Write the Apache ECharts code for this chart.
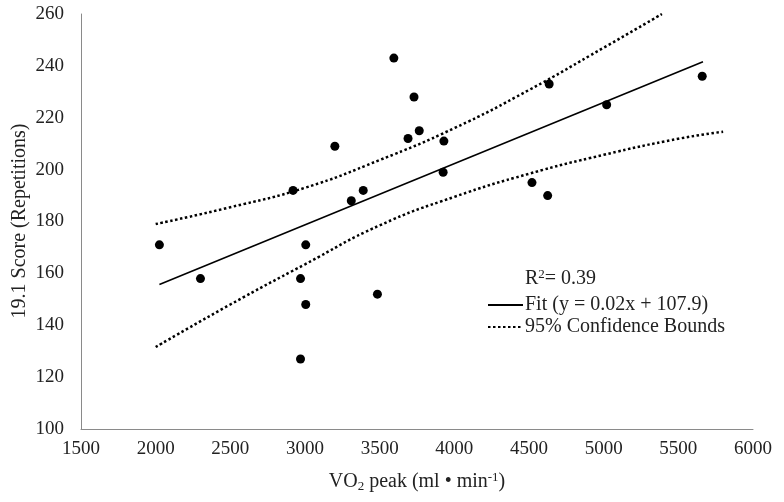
<!DOCTYPE html>
<html>
<head>
<meta charset="utf-8">
<script src="https://cdn.jsdelivr.net/npm/echarts@6/dist/echarts.min.js"></script>
<style>html,body{margin:0;padding:0;background:#fff}#c{width:784px;height:502px}</style>
</head>
<body>
<div id="c"></div>
<script>
const vo2 = [2025, 2300, 2920, 3005, 2970, 3005, 2970, 3200, 3310, 3390, 3485, 3595, 3730, 3690, 3765, 3930, 3925, 4520, 4625, 4635, 5020, 5660];
const score = [171, 158, 192, 171, 158, 148, 127, 209, 188, 192, 152, 243, 228, 212, 215, 211, 199, 195, 190, 233, 225, 236];
const fitX = [2025, 5665];
const fitY = [155.7, 241.6];
const upperX = [2000, 2500, 3000, 3500, 4000, 4500, 5000, 5390];
const upperY = [179, 185.5, 193, 203.7, 216, 230.7, 247, 260];
const lowerX = [2000, 2500, 3000, 3500, 4000, 4500, 5000, 5500, 5800];
const lowerY = [131.6, 148, 163.5, 178.5, 189.5, 198.4, 205.7, 211.9, 214.6];
const xTicks = {min: 1500, max: 6000, interval: 500};
const yTicks = {min: 100, max: 260, interval: 20};
const yTitle = '19.1 Score (Repetitions)';

const zip = (a, b) => a.map((v, i) => [v, b[i]]);
const font = 'Liberation Serif, Times New Roman, serif';
const dotted = {color: '#000', width: 2.5, type: [2.5, 2.5], cap: 'butt'};

const chart = echarts.init(document.getElementById('c'), null, {renderer: 'canvas'});
chart.setOption({
  animation: false,
  backgroundColor: '#fff',
  textStyle: {fontFamily: font},
  grid: {left: 81, right: 31, top: 14, bottom: 73, containLabel: false, outerBoundsMode: 'none'},
  xAxis: {
    type: 'value', min: xTicks.min, max: xTicks.max, interval: xTicks.interval,
    splitLine: {show: false}, axisTick: {show: false},
    axisLine: {lineStyle: {color: '#8a8a8a', width: 1}},
    axisLabel: {color: '#222', fontSize: 19, fontFamily: font, margin: 11, formatter: v => String(v)},
    name: '{n|VO}{sub|2}{n| peak (ml • min}{sup|-1}{n|)}',
    nameLocation: 'middle', nameGap: 42,
    nameTextStyle: {
      rich: {
        n: {fontSize: 20, fontFamily: font, color: '#222'},
        sub: {fontSize: 13, fontFamily: font, color: '#222', verticalAlign: 'bottom', padding: [9, 0, 0, 0]},
        sup: {fontSize: 13, fontFamily: font, color: '#222', verticalAlign: 'top', padding: [0, 0, 9, 0]}
      }
    }
  },
  yAxis: {
    type: 'value', min: yTicks.min, max: yTicks.max, interval: yTicks.interval,
    splitLine: {show: false}, axisTick: {show: false},
    axisLine: {show: true, lineStyle: {color: '#8a8a8a', width: 1}},
    axisLabel: {color: '#222', fontSize: 19, fontFamily: font, margin: 17, formatter: v => String(v)}
  },
  legend: {
    left: 482, top: 290, orient: 'vertical', itemGap: 2,
    itemWidth: 35, itemHeight: 12,
    itemStyle: {opacity: 0},
    textStyle: {fontSize: 20, fontFamily: font, color: '#222', padding: [0, 0, 0, -3]},
    data: ['Fit (y = 0.02x + 107.9)', '95% Confidence Bounds']
  },
  graphic: [{
    type: 'text', left: 525, top: 268,
    style: {
      text: '{n|R}{sup|2}{n|= 0.39}',
      rich: {
        n: {fontSize: 20, fontFamily: font, fill: '#222'},
        sup: {fontSize: 13, fontFamily: font, fill: '#222', verticalAlign: 'top', padding: [0, 0, 9, 0]}
      }
    }
  }, {
    type: 'text', x: 20, y: 221, rotation: Math.PI / 2,
    style: {
      text: yTitle, fontSize: 20, fontFamily: font, fill: '#222',
      align: 'center', verticalAlign: 'middle'
    }
  }],
  series: [
    {
      name: 'Fit (y = 0.02x + 107.9)', type: 'line', data: zip(fitX, fitY),
      showSymbol: false, symbol: 'none', lineStyle: {color: '#000', width: 1.6}, itemStyle: {color: '#000'}, z: 3
    },
    {
      name: '95% Confidence Bounds', type: 'line', data: zip(upperX, upperY), smooth: true,
      showSymbol: false, symbol: 'none', lineStyle: dotted, itemStyle: {color: '#000'}, z: 3
    },
    {
      name: '95% Confidence Bounds', type: 'line', data: zip(lowerX, lowerY), smooth: true,
      showSymbol: false, symbol: 'none', lineStyle: dotted, itemStyle: {color: '#000'}, z: 3
    },
    {
      name: 'Data', type: 'scatter', data: zip(vo2, score), symbolSize: 9,
      itemStyle: {color: '#000', opacity: 1}, z: 4
    }
  ]
});
</script>
</body>
</html>
